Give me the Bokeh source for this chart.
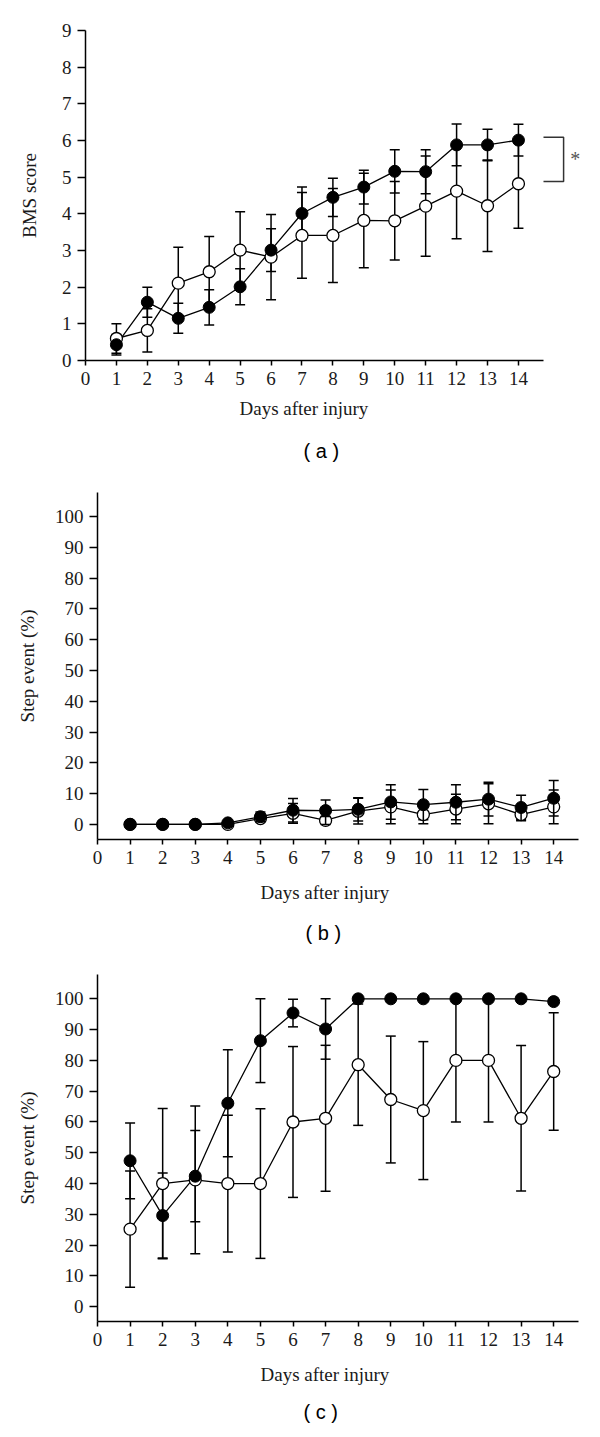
from bokeh.plotting import figure
from bokeh.layouts import column
from bokeh.models import FixedTicker, Label, Title
from bokeh.embed import file_html
from bokeh.resources import INLINE

# ---------------- data ----------------
days = list(range(1, 15))
x_ticks = list(range(0, 15))

# (a) BMS score
bms_ticks = list(range(0, 10))
bms_filled = [0.43, 1.59, 1.15, 1.45, 2.01, 3.01, 4.01, 4.45, 4.73, 5.16, 5.15, 5.88, 5.88, 6.01]
bms_filled_err = [0.28, 0.41, 0.41, 0.48, 0.49, 0.58, 0.72, 0.52, 0.46, 0.59, 0.60, 0.57, 0.43, 0.43]
bms_open = [0.60, 0.82, 2.11, 2.42, 3.01, 2.82, 3.41, 3.41, 3.82, 3.81, 4.21, 4.62, 4.22, 4.82]
bms_open_err = [0.40, 0.59, 0.98, 0.96, 1.05, 1.16, 1.17, 1.28, 1.29, 1.07, 1.37, 1.30, 1.25, 1.21]
bracket_top = 6.09
bracket_bottom = 4.88

# (b) Step event (%)
pct_ticks = list(range(0, 101, 10))
stepb_filled = [0, 0, 0, 0.5, 2.5, 4.6, 4.5, 4.9, 7.3, 6.4, 7.2, 8.2, 5.5, 8.5]
stepb_filled_err = [0, 0, 0, 0.5, 1.5, 3.8, 3.4, 3.8, 5.6, 4.9, 5.7, 5.5, 4.0, 5.8]
stepb_open = [0, 0, 0, 0, 1.9, 3.6, 1.3, 4.3, 5.7, 3.2, 5.0, 6.7, 3.2, 5.7]
stepb_open_err = [0, 0, 0, 0, 1.0, 3.2, 1.3, 4.2, 5.5, 3.0, 4.8, 6.5, 2.0, 5.5]

# (c) Step event (%)
stepc_filled = [47.4, 29.6, 42.4, 66.1, 86.4, 95.4, 90.2, 100, 100, 100, 100, 100, 100, 99.1]
stepc_filled_err = [12.3, 13.8, 14.8, 17.4, 13.6, 4.5, 9.8, 0, 0, 0, 0, 0, 0, 0]
stepc_open = [25.2, 40.0, 41.2, 40.0, 40.0, 60.0, 61.2, 78.6, 67.3, 63.7, 80.0, 80.0, 61.2, 76.4]
stepc_open_err = [18.9, 24.4, 24.0, 22.2, 24.3, 24.5, 23.7, 19.7, 20.6, 22.4, 20.0, 20.0, 23.6, 19.1]

SERIF = "Liberation Serif"
SANS = "Liberation Sans"


def errorbars(p, x, y, e):
    lo = [a - b for a, b in zip(y, e)]
    hi = [a + b for a, b in zip(y, e)]
    p.segment(x0=x, y0=lo, x1=x, y1=hi, line_color="black", line_width=1.5)
    p.scatter(x=x, y=lo, marker="dash", size=10, line_color="black", line_width=1.5)
    p.scatter(x=x, y=hi, marker="dash", size=10, line_color="black", line_width=1.5)


def make_panel(height, xr, yr, yticks, xbound, borders, open_y, open_e, filled_y, filled_e,
               ylabel, ylabel_standoff, xlabel_offset, xlabel_standoff,
               caption, caption_offset, caption_standoff, open_bars_on_top=False):
    p = figure(width=600, height=height, x_range=xr, y_range=yr,
               output_backend="svg", toolbar_location=None,
               min_border_left=borders[0], min_border_right=borders[1],
               min_border_top=borders[2], min_border_bottom=borders[3])
    p.frame_align = False
    p.outline_line_color = None
    p.grid.visible = False
    p.background_fill_color = "white"
    p.border_fill_color = "white"

    p.xaxis.ticker = FixedTicker(ticks=x_ticks)
    p.yaxis.ticker = FixedTicker(ticks=yticks)
    p.xaxis.bounds = xbound
    for ax in (p.xaxis[0], p.yaxis[0]):
        ax.axis_line_width = 1.5
        ax.axis_line_color = "black"
        ax.major_tick_line_width = 1.5
        ax.major_tick_line_color = "black"
        ax.major_tick_in = 0
        ax.minor_tick_line_color = None
        ax.major_label_text_font = SERIF
        ax.major_label_text_font_size = "19px"
        ax.major_label_text_color = "#1a1a1a"
    p.xaxis.major_tick_out = 5
    p.yaxis.major_tick_out = 8
    p.xaxis.major_label_standoff = 6
    p.yaxis.major_label_standoff = 6

    p.yaxis.axis_label = ylabel
    p.yaxis.axis_label_text_font = SERIF
    p.yaxis.axis_label_text_font_size = "19px"
    p.yaxis.axis_label_text_font_style = "normal"
    p.yaxis.axis_label_text_color = "#1a1a1a"
    p.yaxis.axis_label_standoff = ylabel_standoff

    if not open_bars_on_top:
        errorbars(p, days, open_y, open_e)
    errorbars(p, days, filled_y, filled_e)
    p.line(days, open_y, line_color="black", line_width=1.3)
    p.line(days, filled_y, line_color="black", line_width=1.3)
    p.scatter(days, open_y, marker="circle", size=12, fill_color="white",
              line_color="black", line_width=1.3)
    if open_bars_on_top:
        errorbars(p, days, open_y, open_e)
    p.scatter(days, filled_y, marker="circle", size=12, fill_color="black",
              line_color="black", line_width=1)

    p.add_layout(Title(text="Days after injury", align="left", offset=xlabel_offset,
                       vertical_align="middle", standoff=xlabel_standoff,
                       text_font=SERIF, text_font_size="19px", text_font_style="normal",
                       text_color="#1a1a1a"), "below")
    p.add_layout(Title(text=caption, align="left", offset=caption_offset,
                       vertical_align="middle", standoff=caption_standoff,
                       text_font=SANS, text_font_size="20px", text_font_style="normal",
                       text_color="black"), "below")
    return p


pa = make_panel(478, (0, 16.33), (0, 9), bms_ticks, (0, 14.82), (85, 10, 30, 118),
                bms_open, bms_open_err, bms_filled, bms_filled_err,
                "BMS score", 19, 154, 18, "( a )", 218, 20)
# significance bracket
pa.line([14.81, 15.46, 15.46, 14.81], [bracket_top, bracket_top, bracket_bottom, bracket_bottom],
        line_color="#333333", line_width=1.5)
pa.add_layout(Label(x=15.84, y=(bracket_top + bracket_bottom) / 2, text="*",
                    text_font=SERIF, text_font_size="20px", text_color="#555555",
                    text_align="center", text_baseline="middle"))

pb = make_panel(475, (0, 15.13), (-4.9, 107.8), pct_ticks, (0, 14.77), (97, 10, 14, 114),
                stepb_open, stepb_open_err, stepb_filled, stepb_filled_err,
                "Step event (%)", 14, 163, 28, "( b )", 208, 6, open_bars_on_top=True)

pc = make_panel(484, (0, 15.13), (-4.8, 107.9), pct_ticks, (0, 14.77), (97, 10, 21, 116),
                stepc_open, stepc_open_err, stepc_filled, stepc_filled_err,
                "Step event (%)", 14, 163, 28, "( c )", 206, 0)

layout = column(pa, pb, pc, spacing=0)
open("out.html", "w").write(file_html(layout, INLINE))
